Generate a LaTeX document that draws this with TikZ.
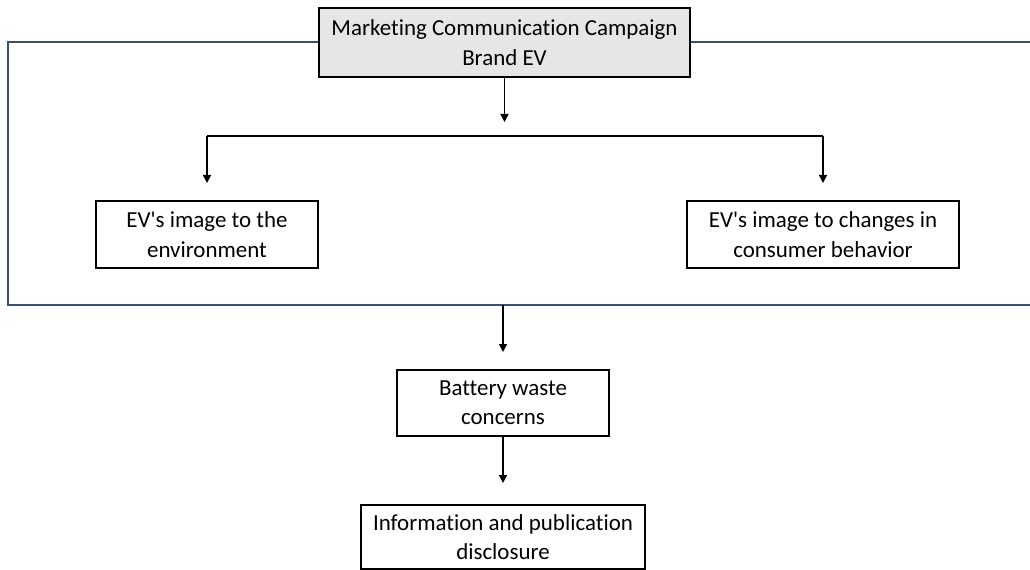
\documentclass[tikz,border=0pt]{standalone}
\usepackage{fontspec}
\setmainfont{Carlito}[Ligatures={TeXOff,NoCommon}]
\usetikzlibrary{arrows.meta}
\definecolor{framecol}{HTML}{3A5070}
\definecolor{topfill}{HTML}{E6E6E6}
\tikzset{
  box/.style={draw=black, line width=1.5pt, rectangle, inner sep=0pt, align=center, font=\fontsize{17.2}{22}\selectfont},
  conn/.style={line width=1.1pt, -{Triangle[width=6pt,length=6pt]}},
  plain/.style={line width=1.1pt}
}
\begin{document}
\begin{tikzpicture}[x=0.75pt,y=-0.75pt]
\useasboundingbox (0,0) rectangle (1030,570);
% outer frame (right side extends beyond picture)
\draw[framecol, line width=1.6pt] (1032,42) -- (8,42) -- (8,305) -- (1032,305);
\node[box, fill=topfill, minimum width=371*0.75pt, minimum height=69*0.75pt] (top) at (504.5,42.5) {Marketing Communication Campaign\\Brand EV};
\node[box, minimum width=222*0.75pt, minimum height=67*0.75pt] (left) at (207,234.5) {EV's image to the\\environment};
\node[box, minimum width=272*0.75pt, minimum height=67*0.75pt] (right) at (823,234.5) {EV's image to changes in\\consumer behavior};
\node[box, minimum width=212*0.75pt, minimum height=66*0.75pt] (bat) at (503,403) {Battery waste\\concerns};
\node[box, minimum width=284*0.75pt, minimum height=64*0.75pt] (info) at (503,537) {Information and publication\\disclosure};
\coordinate (a1) at (504.5,122);
\coordinate (hl) at (207,136);
\coordinate (hr) at (823,136);
\coordinate (fb) at (503,305);
\draw[conn] (top.south) -- (a1);
\draw[plain] (hl) -- (hr);
\draw[conn] (hl) -- (207,183);
\draw[conn] (hr) -- (823,183);
\draw[conn] (fb) -- (503,352);
\draw[conn] (bat.south) -- (503,483);
\end{tikzpicture}
\end{document}
